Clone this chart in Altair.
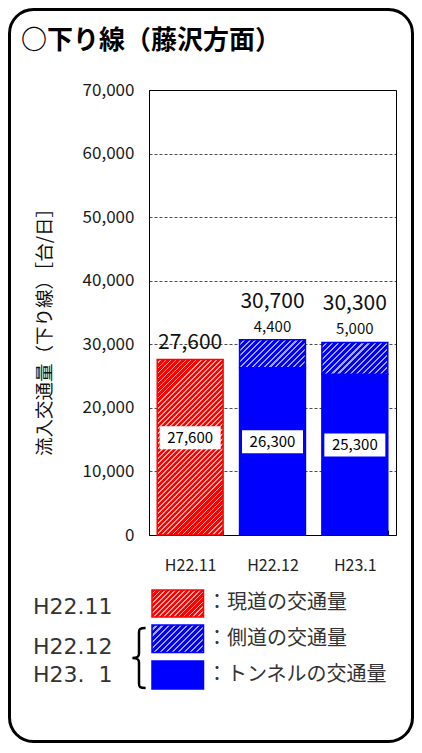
import altair as alt
import pandas as pd

# ---------------- data ----------------
months = ["H22.11", "H22.12", "H23.1"]
existing_road = [27600, 0, 0]      # 現道の交通量
tunnel = [0, 26300, 25300]         # トンネルの交通量
side_road = [0, 4400, 5000]        # 側道の交通量

y_ticks = [0, 10000, 20000, 30000, 40000, 50000, 60000, 70000]
Y_MAX = 70000

title_text = "○下り線（藤沢方面）"
y_title = "流入交通量（下り線）［台/日］"
legend_periods = ["H22.11", "H22.12", "H23.\u00a0\u00a01"]
legend_labels = ["：現道の交通量", "：側道の交通量", "：トンネルの交通量"]

# ---------------- layout ----------------
W, H = 247, 445
PAD_L, PAD_T = 141, 82
TOTAL_W, TOTAL_H = 406, 735
FONT = "Noto Sans CJK JP"
RED, RED_LIGHT = "#ff0000", "#ffa8a8"
BLUE, BLUE_LIGHT = "#0000ff", "#a4a4ff"
P_IN, P_OUT = 0.2, 0.1
step = W / (len(months) - P_IN + 2 * P_OUT)
BAND = step * (1 - P_IN)


def hatch(w, h, period, main, light, frac=0.36):
    """diagonal (///) stripes built from a hard-stop linear gradient"""
    k = (w + h) / (w * w + h * h)
    n = max(1, round((w + h) / period))
    stops = []
    for i in range(n):
        a = round(i / n, 5)
        b = round((i + 1 - frac) / n, 5)
        c = round((i + 1) / n, 5)
        stops += [{"offset": a, "color": main}, {"offset": b, "color": main},
                  {"offset": b, "color": light}, {"offset": c, "color": light}]
    return {"gradient": "linear", "x1": 0, "y1": 0,
            "x2": round(w * k, 5), "y2": round(h * k, 5), "stops": stops}


rows = []
for m, e, t, s in zip(months, existing_road, tunnel, side_road):
    if e:
        rows.append(dict(month=m, kind="existing", start=0, end=e))
    if t:
        rows.append(dict(month=m, kind="tunnel", start=0, end=t))
    if s:
        rows.append(dict(month=m, kind="side", start=t, end=t + s))
seg = pd.DataFrame(rows)

summary = pd.DataFrame(dict(
    month=months,
    base=[e + t for e, t in zip(existing_road, tunnel)],
    side=side_road,
    total=[e + t + s for e, t, s in zip(existing_road, tunnel, side_road)],
))

x_enc = alt.X("month:N", sort=months,
              scale=alt.Scale(domain=months, paddingInner=P_IN, paddingOuter=P_OUT),
              axis=alt.Axis(title=None, labelAngle=0, labelFontSize=16, labelColor="#222",
                            labelFont=FONT, domain=False, ticks=True, tickBand="extent",
                            tickSize=5, tickColor="black", tickWidth=1, offset=-5,
                            labelPadding=22, grid=False))
y_enc = alt.Y("end:Q", scale=alt.Scale(domain=[0, Y_MAX], nice=False),
              axis=alt.Axis(values=y_ticks, labelExpr="format(datum.value, ',')",
                            labelFontSize=17, labelColor="#1a1a1a",
                            labelFont=FONT, labelPadding=15, ticks=False, domain=True,
                            domainColor="black", domainWidth=1, grid=True, gridColor="black",
                            gridDash=[3, 2], gridWidth=0.7, title=y_title, titleFont=FONT,
                            titleFontSize=18.5, titleFontWeight="normal", titleColor="#111",
                            titleAngle=270, titleX=-105, titleY=237, titleAlign="center",
                            titleBaseline="middle"))

one = pd.DataFrame({"k": [0]})
layers = []

# outer rounded frame
layers.append(alt.Chart(one).mark_rect(fill="transparent", stroke="black", strokeWidth=3,
                                       cornerRadius=24).encode(
    x=alt.value(1.5 - PAD_L), x2=alt.value(TOTAL_W - 1.5 - PAD_L),
    y=alt.value(1.5 - PAD_T), y2=alt.value(TOTAL_H - 1.5 - PAD_T)))

# bars
first = True
for r in seg.itertuples():
    h = (r.end - r.start) / Y_MAX * H
    if r.kind == "existing":
        fill, stroke = hatch(BAND, h, 5.0, RED, RED_LIGHT), RED
    elif r.kind == "side":
        fill, stroke = hatch(BAND, h, 6.0, BLUE, BLUE_LIGHT), BLUE
    else:
        fill, stroke = BLUE, BLUE
    c = alt.Chart(seg).transform_filter(
        (alt.datum.month == r.month) & (alt.datum.kind == r.kind)
    ).mark_bar(fill=fill, stroke=stroke, strokeWidth=1.5).encode(
        x=x_enc if first else alt.X("month:N", sort=months),
        y=y_enc if first else alt.Y("end:Q"),
        y2="start:Q")
    first = False
    layers.append(c)

# total labels
layers.append(alt.Chart(summary).transform_filter(alt.datum.side == 0).mark_text(
    fontSize=21, color="#111", baseline="middle", dy=-17, font=FONT).encode(
    x=alt.X("month:N", sort=months), y=alt.Y("total:Q"), text=alt.Text("total:Q", format=",")))
layers.append(alt.Chart(summary).transform_filter(alt.datum.side > 0).mark_text(
    fontSize=21, color="#111", baseline="middle", dy=-38, font=FONT).encode(
    x=alt.X("month:N", sort=months), y=alt.Y("total:Q"), text=alt.Text("total:Q", format=",")))
layers.append(alt.Chart(summary).transform_filter(alt.datum.side > 0).mark_text(
    fontSize=15, color="#111", baseline="middle", dy=-13, font=FONT).encode(
    x=alt.X("month:N", sort=months), y=alt.Y("total:Q"), text=alt.Text("side:Q", format=",")))

# white boxed labels inside bars
BOX_W, BOX_H = 61, 23
box_path = f"M-1,-{BOX_H / BOX_W:.3f}H1V{BOX_H / BOX_W:.3f}H-1Z"
inner = alt.Chart(summary).transform_calculate(ly="datum.base / 2 + 1500")
layers.append(inner.mark_point(shape=box_path, size=BOX_W * BOX_W, filled=True, fill="white",
                               opacity=1, strokeWidth=0).encode(
    x=alt.X("month:N", sort=months), y=alt.Y("ly:Q")))
layers.append(inner.mark_text(fontSize=15, color="black", baseline="middle", font=FONT).encode(
    x=alt.X("month:N", sort=months), y=alt.Y("ly:Q"), text=alt.Text("base:Q", format=",")))

# title
layers.append(alt.Chart(one).mark_text(text=title_text, fontSize=26, fontWeight="bold",
                                       align="left", baseline="middle", color="black",
                                       font=FONT).encode(
    x=alt.value(21 - 8 - PAD_L), y=alt.value(41 - 8 - PAD_T)))

# legend: period labels
for txt, cy in zip(legend_periods, [607, 647, 675]):
    layers.append(alt.Chart(one).mark_text(text=txt, fontSize=22, align="left",
                                           baseline="middle", color="#333",
                                           font="DejaVu Sans").encode(
        x=alt.value(33 - 8 - PAD_L), y=alt.value(cy - 8 - PAD_T)))

# brace
brace = ("M0.22,-1 C0.02,-1 0,-0.96 0,-0.85 L0,-0.15 C0,-0.04 -0.06,0 -0.22,0 "
         "C-0.06,0 0,0.04 0,0.15 L0,0.85 C0,0.96 0.02,1 0.22,1")
layers.append(alt.Chart(one).mark_point(shape=brace, size=60 * 60, filled=False,
                                        stroke="black", strokeWidth=2.5, opacity=1).encode(
    x=alt.value(139 - 8 - PAD_L), y=alt.value(658 - 8 - PAD_T)))

# legend swatches
sw_x0, sw_x1 = 152, 203.5
sw_rows = [(590, 617), (625, 652.5), (661, 689)]
sw_fills = [hatch(sw_x1 - sw_x0, 27, 5.0, RED, RED_LIGHT),
            hatch(sw_x1 - sw_x0, 27.5, 6.0, BLUE, BLUE_LIGHT), BLUE]
sw_strokes = [RED, BLUE, BLUE]
for (y0, y1), f, s in zip(sw_rows, sw_fills, sw_strokes):
    layers.append(alt.Chart(one).mark_rect(fill=f, stroke=s, strokeWidth=1.5).encode(
        x=alt.value(sw_x0 - 8 - PAD_L), x2=alt.value(sw_x1 - 8 - PAD_L),
        y=alt.value(y0 - 8 - PAD_T), y2=alt.value(y1 - 8 - PAD_T)))

for txt, cy in zip(legend_labels, [603, 639, 675]):
    layers.append(alt.Chart(one).mark_text(text=txt, fontSize=20, align="left",
                                           baseline="middle", color="#333",
                                           font=FONT).encode(
        x=alt.value(207 - 8 - PAD_L), y=alt.value(cy - 8 - PAD_T)))

chart = alt.layer(*layers).properties(
    width=W, height=H,
    padding={"left": PAD_L, "top": PAD_T, "right": TOTAL_W - PAD_L - W,
             "bottom": TOTAL_H - PAD_T - H},
    autosize=alt.AutoSizeParams(type="none"),
).configure(font=FONT).configure_view(stroke="black", strokeWidth=1)

chart.save("out.html", embed_options={"renderer": "svg", "actions": False})
